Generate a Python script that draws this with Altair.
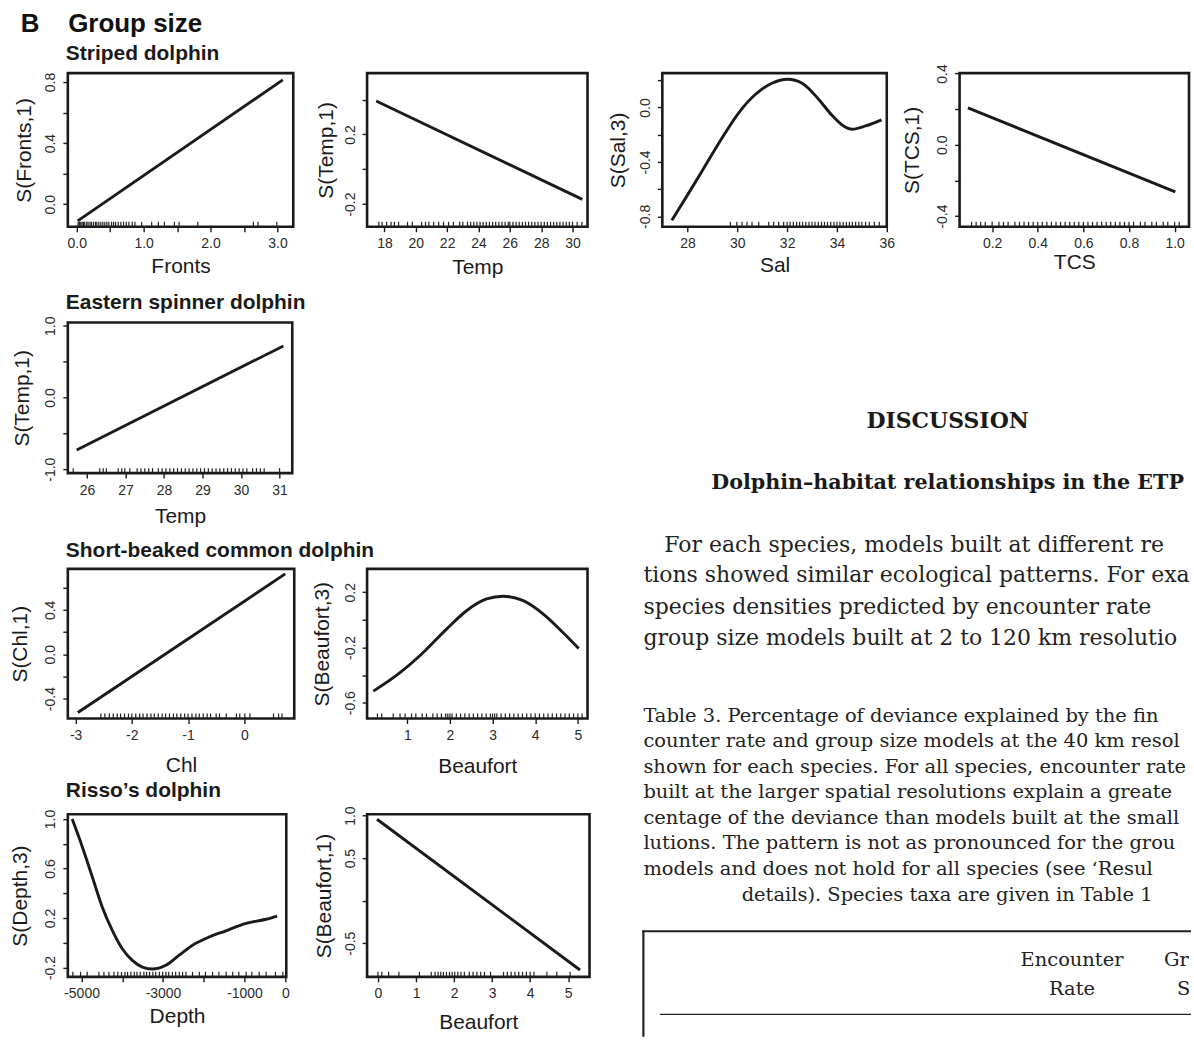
import altair as alt
import pandas as pd

# ---------------- data ----------------
# Striped dolphin
FRONTS_X = [0.015, 3.08]
FRONTS_Y = [-0.109, 0.814]
FRONTS_RUG = [0.02, 0.04, 0.06, 0.08, 0.1, 0.12, 0.15, 0.17, 0.2, 0.22, 0.25, 0.28, 0.3, 0.33,
              0.36, 0.39, 0.42, 0.45, 0.48, 0.52, 0.55, 0.58, 0.62, 0.66, 0.7, 0.74, 0.78, 0.83,
              0.87, 0.97, 1.12, 1.22, 1.31, 1.46, 1.53, 1.81, 2.64, 2.71, 2.99]

TEMP_S_X = [17.47, 30.63]
TEMP_S_Y = [0.392, -0.173]
TEMP_S_RUG = [17.64, 17.85, 18.14, 18.42, 18.63, 18.9, 19.47, 19.78, 20.37, 20.62, 20.83, 21.14,
              21.46, 21.77, 22.09, 22.4, 22.8, 23.0, 23.3, 23.5, 23.7, 23.9, 24.1, 24.3, 24.5,
              24.7, 24.9, 25.1, 25.3, 25.5, 25.7, 25.9, 26.0, 26.2, 26.4, 26.6, 26.8, 27.0, 27.2,
              27.4, 27.6, 27.8, 28.0, 28.2, 28.4, 28.6, 28.8, 29.0, 29.2, 29.4, 29.6, 29.8, 30.0,
              30.3, 30.6]

SAL_X = [27.37, 28.04, 28.71, 29.38, 30.05, 30.72, 31.39, 32.02, 32.6, 33.27, 33.81, 34.28,
         34.61, 35.15, 35.79]
SAL_Y = [-0.829, -0.631, -0.429, -0.226, -0.041, 0.095, 0.178, 0.207, 0.178, 0.059, -0.06,
         -0.138, -0.16, -0.136, -0.091]
SAL_RUG = [29.72, 29.98, 30.19, 30.39, 30.59, 30.86, 31.26, 31.46, 31.66, 31.86, 32.0, 32.12,
           32.25, 32.38, 32.5, 32.62, 32.75, 32.88, 33.0, 33.12, 33.25, 33.38, 33.5, 33.62, 33.75,
           33.88, 34.0, 34.12, 34.25, 34.38, 34.5, 34.62, 34.75, 34.88, 35.0, 35.15, 35.3, 35.5,
           35.7]

TCS_X = [0.094, 1.003]
TCS_Y = [0.207, -0.264]
TCS_RUG = [0.11, 0.13, 0.15, 0.17, 0.2, 0.23, 0.25, 0.27, 0.3, 0.32, 0.34, 0.36, 0.38, 0.4,
           0.42, 0.44, 0.46, 0.48, 0.5, 0.52, 0.54, 0.56, 0.58, 0.6, 0.62, 0.64, 0.66, 0.68, 0.7,
           0.72, 0.74, 0.76, 0.78, 0.8, 0.82, 0.85, 0.87, 0.9, 0.92, 0.95, 0.97, 1.0, 1.02]

# Eastern spinner dolphin
TEMP_E_X = [25.73, 31.1]
TEMP_E_Y = [-0.733, 0.719]
TEMP_E_RUG = [25.64, 26.33, 26.42, 26.5, 26.81, 26.9, 26.98, 27.11, 27.3, 27.4, 27.5, 27.6, 27.7,
              27.85, 27.95, 28.05, 28.15, 28.25, 28.35, 28.45, 28.55, 28.65, 28.75, 28.85, 28.95,
              29.05, 29.15, 29.25, 29.35, 29.45, 29.55, 29.65, 29.75, 29.85, 29.95, 30.05, 30.15,
              30.3, 30.4, 30.5, 30.6, 31.0]

# Short-beaked common dolphin
CHL_X = [-2.959, 0.728]
CHL_Y = [-0.525, 0.724]
CHL_RUG = [-2.55, -2.48, -2.4, -2.33, -2.26, -2.2, -2.13, -2.06, -2.0, -1.93, -1.86, -1.8, -1.73,
           -1.66, -1.6, -1.53, -1.46, -1.4, -1.33, -1.26, -1.2, -1.13, -1.06, -1.0, -0.93, -0.86,
           -0.8, -0.73, -0.66, -0.6, -0.5, -0.44, -0.32, -0.14, -0.08, 0.01, 0.1, 0.52, 0.61, 0.67]

BEAU3_X = [0.204, 0.829, 1.375, 1.92, 2.39, 2.86, 3.25, 3.72, 4.19, 4.65, 5.02]
BEAU3_Y = [-0.516, -0.382, -0.236, -0.067, 0.066, 0.151, 0.171, 0.139, 0.042, -0.091, -0.207]
BEAU3_RUG = [0.3, 0.4, 0.67, 0.83, 0.95, 1.1, 1.2, 1.35, 1.45, 1.6, 1.7, 1.8, 1.9, 1.95, 2.0,
             2.05, 2.15, 2.25, 2.35, 2.45, 2.55, 2.65, 2.75, 2.85, 2.95, 3.0, 3.05, 3.1, 3.2, 3.3,
             3.4, 3.5, 3.6, 3.7, 3.8, 3.9, 4.0, 4.1, 4.2, 4.3, 4.4, 4.5, 4.6, 4.7, 4.8, 4.9, 5.0,
             5.1]

# Risso's dolphin
DEPTH_X = [-5231, -4985, -4739, -4493, -4246, -4000, -3754, -3507, -3261, -2933, -2604, -2276,
           -1948, -1456, -963, -470, -200]
DEPTH_Y = [1.0, 0.778, 0.535, 0.29, 0.101, -0.048, -0.142, -0.196, -0.212, -0.182, -0.1, -0.019,
           0.035, 0.097, 0.157, 0.19, 0.216]
DEPTH_RUG = [-5214, -5025, -4862, -4574, -4451, -4328, -4204, -4110, -4020, -3935, -3870, -3790,
             -3705, -3640, -3560, -3470, -3405, -3330, -3250, -3180, -3090, -3010, -2930, -2860,
             -2770, -2690, -2600, -2520, -2438, -2276, -2110, -1960, -1785, -1630, -1450, -1290,
             -1140, -960, -820, -640, -470, -240, -59]

BEAU1_X = [-0.026, 5.31]
BEAU1_Y = [0.957, -0.815]
BEAU1_RUG = [0.0, 0.1, 0.28, 0.55, 1.09, 1.4, 1.5, 1.58, 1.65, 1.72, 1.8, 1.88, 1.95, 2.02, 2.1,
             2.18, 2.27, 2.4, 2.5, 2.6, 2.7, 2.8, 2.96, 3.3, 3.4, 3.5, 3.6, 3.7, 3.8, 3.9, 4.0,
             4.1, 4.44, 4.7, 5.05]

# ---------------- text ----------------
MAIN_TITLE = "B\u00a0\u00a0\u00a0\u00a0Group size"
SPECIES = ["Striped dolphin", "Eastern spinner dolphin", "Short-beaked common dolphin",
           "Risso\u2019s dolphin"]
HEAD1 = "DISCUSSION"
HEAD2 = "Dolphin\u2013habitat relationships in the ETP"
BODY_FIRST = "For each species, models built at different re"
BODY_REST = ["tions showed similar ecological patterns. For exa",
             "species densities predicted by encounter rate",
             "group size models built at 2 to 120 km resolution"]
CAPTION = ["Table 3. Percentage of deviance explained by the fin",
           "counter rate and group size models at the 40 km resolu",
           "shown for each species. For all species, encounter rate m",
           "built at the larger spatial resolutions explain a greate",
           "centage of the deviance than models built at the smaller",
           "lutions. The pattern is not as pronounced for the grou",
           "models and does not hold for all species (see \u2018Resul"]
CAPTION_LAST = "details). Species taxa are given in Table 1"
TABLE_COL1 = ["Encounter", "Rate"]
TABLE_COL2 = ["Gr", "S"]

# ---------------- styling helpers ----------------
SANS = "Liberation Sans"
SERIF = "DejaVu Serif"
INK = "#1a1a1a"
TITLE_EXTRA = 21  # vertical extra that Vega adds above an alphabetic-baseline title
PAGE_RIGHT = 1193  # nothing may pass the right edge of the page


def lab_expr(labels, dec):
    if dec:
        arr = "[" + ",".join(repr(float(v)) for v in labels) + "]"
    else:
        arr = "[" + ",".join(repr(int(v)) for v in labels) + "]"
    return ("indexof(%s, datum.value) >= 0 ? (datum.value < 0 ? '-' : '') + "
            "format(abs(datum.value), '.%df') : ''" % (arr, dec))


def panel(cx, cy, rug, xdom, ydom, xticks, xlabs, xdec, yticks, ylabs, ydec,
          xtitle, ytitle, w, h, xgap, ygap, interp="linear", title=None, toff=14):
    df = pd.DataFrame({"x": cx, "y": cy})
    rdf = pd.DataFrame({"x": rug})
    xs = alt.Scale(domain=xdom, nice=False, zero=False)
    ys = alt.Scale(domain=ydom, nice=False, zero=False)
    xax = alt.Axis(values=xticks, labelExpr=lab_expr(xlabs, xdec), title=xtitle,
                   domain=False, grid=False, tickSize=5, tickWidth=1.4, tickColor=INK,
                   labelFont=SANS, labelFontSize=14, labelColor="#2a2a2a", labelPadding=5,
                   labelFlush=False, labelOverlap=False, labelAngle=0,
                   titleFont=SANS, titleFontSize=21, titleFontWeight="normal",
                   titleColor=INK, titlePadding=xgap - 25.6, minExtent=24, maxExtent=24)
    yax = alt.Axis(values=yticks, labelExpr=lab_expr(ylabs, ydec), title=ytitle,
                   domain=False, grid=False, tickSize=5, tickWidth=1.4, tickColor=INK,
                   labelFont=SANS, labelFontSize=14, labelColor="#2a2a2a", labelPadding=5,
                   labelFlush=False, labelOverlap=False, labelAngle=270,
                   labelAlign="center", labelBaseline="bottom",
                   titleFont=SANS, titleFontSize=21, titleFontWeight="normal",
                   titleColor=INK, titlePadding=ygap - 24, minExtent=24, maxExtent=24)
    line = alt.Chart(df).mark_line(color=INK, strokeWidth=2.9, interpolate=interp).encode(
        x=alt.X("x:Q", scale=xs, axis=xax), y=alt.Y("y:Q", scale=ys, axis=yax))
    rugc = alt.Chart(rdf).mark_rule(color="#222", strokeWidth=1.2).encode(
        x=alt.X("x:Q", scale=xs, axis=xax), y=alt.value(h - 5), y2=alt.value(h))
    ch = alt.layer(rugc, line).properties(width=w, height=h)
    if title:
        ch = ch.properties(title=alt.TitleParams(
            text=title, anchor="start", frame="group", font=SANS, fontSize=21,
            fontWeight="bold", color=INK, baseline="alphabetic",
            offset=toff - TITLE_EXTRA, dx=-2))
    return ch


ONE = pd.DataFrame({"k": [0]})


def blank():
    return alt.Chart(ONE).mark_point(opacity=0).encode(
        x=alt.X("k:Q", axis=None), y=alt.Y("k:Q", axis=None)
    ).properties(width=1, height=1, view=alt.ViewBackground(stroke="transparent"))


# panel rows (row heights 154 / 151 / 150 / 163)
P1 = panel(FRONTS_X, FRONTS_Y, FRONTS_RUG, [-0.133, 3.236], [-0.147, 0.858],
           [0, 0.5, 1.0, 1.5, 2.0, 2.5, 3.0], [0, 1.0, 2.0, 3.0], 1,
           [0.0, 0.2, 0.4, 0.6, 0.8], [0.0, 0.4, 0.8], 1,
           "Fronts", "S(Fronts,1)", 226, 154, 30, 33, title=SPECIES[0], toff=12.5)
P2 = panel(TEMP_S_X, TEMP_S_Y, TEMP_S_RUG, [16.89, 30.96], [-0.33, 0.552],
           [18, 20, 22, 24, 26, 28, 30], [18, 20, 22, 24, 26, 28, 30], 0,
           [-0.2, 0.0, 0.2, 0.4], [-0.2, 0.2], 1,
           "Temp", "S(Temp,1)", 221, 154, 31, 31)
P3 = panel(SAL_X, SAL_Y, SAL_RUG, [26.99, 36.0], [-0.876, 0.252],
           [28, 30, 32, 34, 36], [28, 30, 32, 34, 36], 0,
           [-0.8, -0.6, -0.4, -0.2, 0.0, 0.2], [-0.8, -0.4, 0.0], 1,
           "Sal", "S(Sal,3)", 225, 154, 29, 34, interp="monotone")
P4 = panel(TCS_X, TCS_Y, TCS_RUG, [0.0575, 1.063], [-0.46, 0.402],
           [0.2, 0.4, 0.6, 0.8, 1.0], [0.2, 0.4, 0.6, 0.8, 1.0], 1,
           [-0.4, -0.2, 0.0, 0.2, 0.4], [-0.4, 0.0, 0.4], 1,
           "TCS", "S(TCS,1)", 230, 154, 26, 37)
P5 = panel(TEMP_E_X, TEMP_E_Y, TEMP_E_RUG, [25.5, 31.33], [-1.055, 1.046],
           [26, 27, 28, 29, 30, 31], [26, 27, 28, 29, 30, 31], 0,
           [-1.0, -0.5, 0.0, 0.5, 1.0], [-1.0, 0.0, 1.0], 1,
           "Temp", "S(Temp,1)", 225, 151, 34, 35, title=SPECIES[1], toff=7.3)
P6 = panel(CHL_X, CHL_Y, CHL_RUG, [-3.138, 0.889], [-0.579, 0.769],
           [-3, -2, -1, 0], [-3, -2, -1, 0], 0,
           [-0.4, -0.2, 0.0, 0.2, 0.4, 0.6], [-0.4, 0.0, 0.4], 1,
           "Chl", "S(Chl,1)", 227, 150, 38, 37, title=SPECIES[2], toff=10.9)
P7 = panel(BEAU3_X, BEAU3_Y, BEAU3_RUG, [0.057, 5.227], [-0.714, 0.369],
           [1, 2, 3, 4, 5], [1, 2, 3, 4, 5], 0,
           [-0.6, -0.4, -0.2, 0.0, 0.2], [-0.6, -0.2, 0.2], 1,
           "Beaufort", "S(Beaufort,3)", 221, 150, 39, 35, interp="monotone")
P8 = panel(DEPTH_X, DEPTH_Y, DEPTH_RUG, [-5337, 25], [-0.275, 1.038],
           [-5000, -4000, -3000, -2000, -1000, 0], [-5000, -3000, -1000, 0], 0,
           [-0.2, 0.0, 0.2, 0.4, 0.6, 0.8, 1.0], [-0.2, 0.2, 0.6, 1.0], 1,
           "Depth", "S(Depth,3)", 219, 163, 30, 37, interp="monotone",
           title=SPECIES[3], toff=11.9)
P9 = panel(BEAU1_X, BEAU1_Y, BEAU1_RUG, [-0.286, 5.56], [-0.896, 1.016],
           [0, 1, 2, 3, 4, 5], [0, 1, 2, 3, 4, 5], 0,
           [-0.5, 0.0, 0.5, 1.0], [-0.5, 0.5, 1.0], 1,
           "Beaufort", "S(Beaufort,1)", 223, 163, 36, 33)

# ---------------- page text block (right side) ----------------
TX0, TY0 = 663, 323  # expected page position of this cell's origin


def txt(text, x, y, size, weight="normal", align="left", lh=None, color="#222"):
    props = dict(text=text, font=SERIF, fontSize=size, fontWeight=weight, align=align,
                 baseline="alphabetic", color=color)
    if align == "left":
        props["limit"] = PAGE_RIGHT - x
        props["ellipsis"] = "\u200b"
    if lh:
        props["lineHeight"] = lh
    return alt.Chart(ONE).mark_text(**props).encode(
        x=alt.value(x - TX0), y=alt.value(y - TY0))


def hline(x1, x2, y, wdt):
    return alt.Chart(ONE).mark_rule(color="#222", strokeWidth=wdt).encode(
        x=alt.value(x1 - TX0), x2=alt.value(x2 - TX0), y=alt.value(y - TY0))


def vline(x, y1, y2, wdt):
    return alt.Chart(ONE).mark_rule(color="#222", strokeWidth=wdt).encode(
        x=alt.value(x - TX0), y=alt.value(y1 - TY0), y2=alt.value(y2 - TY0))


TEXT = alt.layer(
    txt(HEAD1, 949, 428.3, 22, "bold", "center", color=INK),
    txt(HEAD2, 949, 490, 20.7, "bold", "center", color=INK),
    txt(BODY_FIRST, 665, 553.3, 22),
    txt(BODY_REST, 644, 583.3, 22, lh=31.7),
    txt(CAPTION, 644, 723.3, 19.5, lh=25.6),
    txt(CAPTION_LAST, 948.5, 902.5, 19.5, align="center"),
    hline(643, PAGE_RIGHT, 933.3, 2.2),
    vline(644, 932.5, 1039, 2.2),
    hline(660.5, PAGE_RIGHT, 1016.7, 1.2),
    txt(TABLE_COL1, 1073.7, 968.3, 19.5, align="center", lh=28.4),
    txt(TABLE_COL2[0], 1166, 968.3, 19.5),
    txt(TABLE_COL2[1], 1179, 996.7, 19.5),
).properties(width=1, height=1, view=alt.ViewBackground(stroke="transparent"))

cells = [P1, P2, P3, P4,
         P5, blank(), TEXT, blank(),
         P6, P7, blank(), blank(),
         P8, P9]

chart = alt.concat(
    *cells, columns=4, spacing={"row": 96, "column": 73}, bounds="flush", align="each"
).properties(
    title=alt.TitleParams(text=MAIN_TITLE, anchor="start", font=SANS, fontSize=26,
                          fontWeight="bold", color="#111", baseline="alphabetic",
                          offset=-16.5, dx=12),
    padding={"left": 8, "top": 9, "right": 0, "bottom": 0},
    background="white",
).configure_view(stroke=INK, strokeWidth=2.6)

chart.save("out.html", embed_options={"renderer": "svg", "actions": False})
